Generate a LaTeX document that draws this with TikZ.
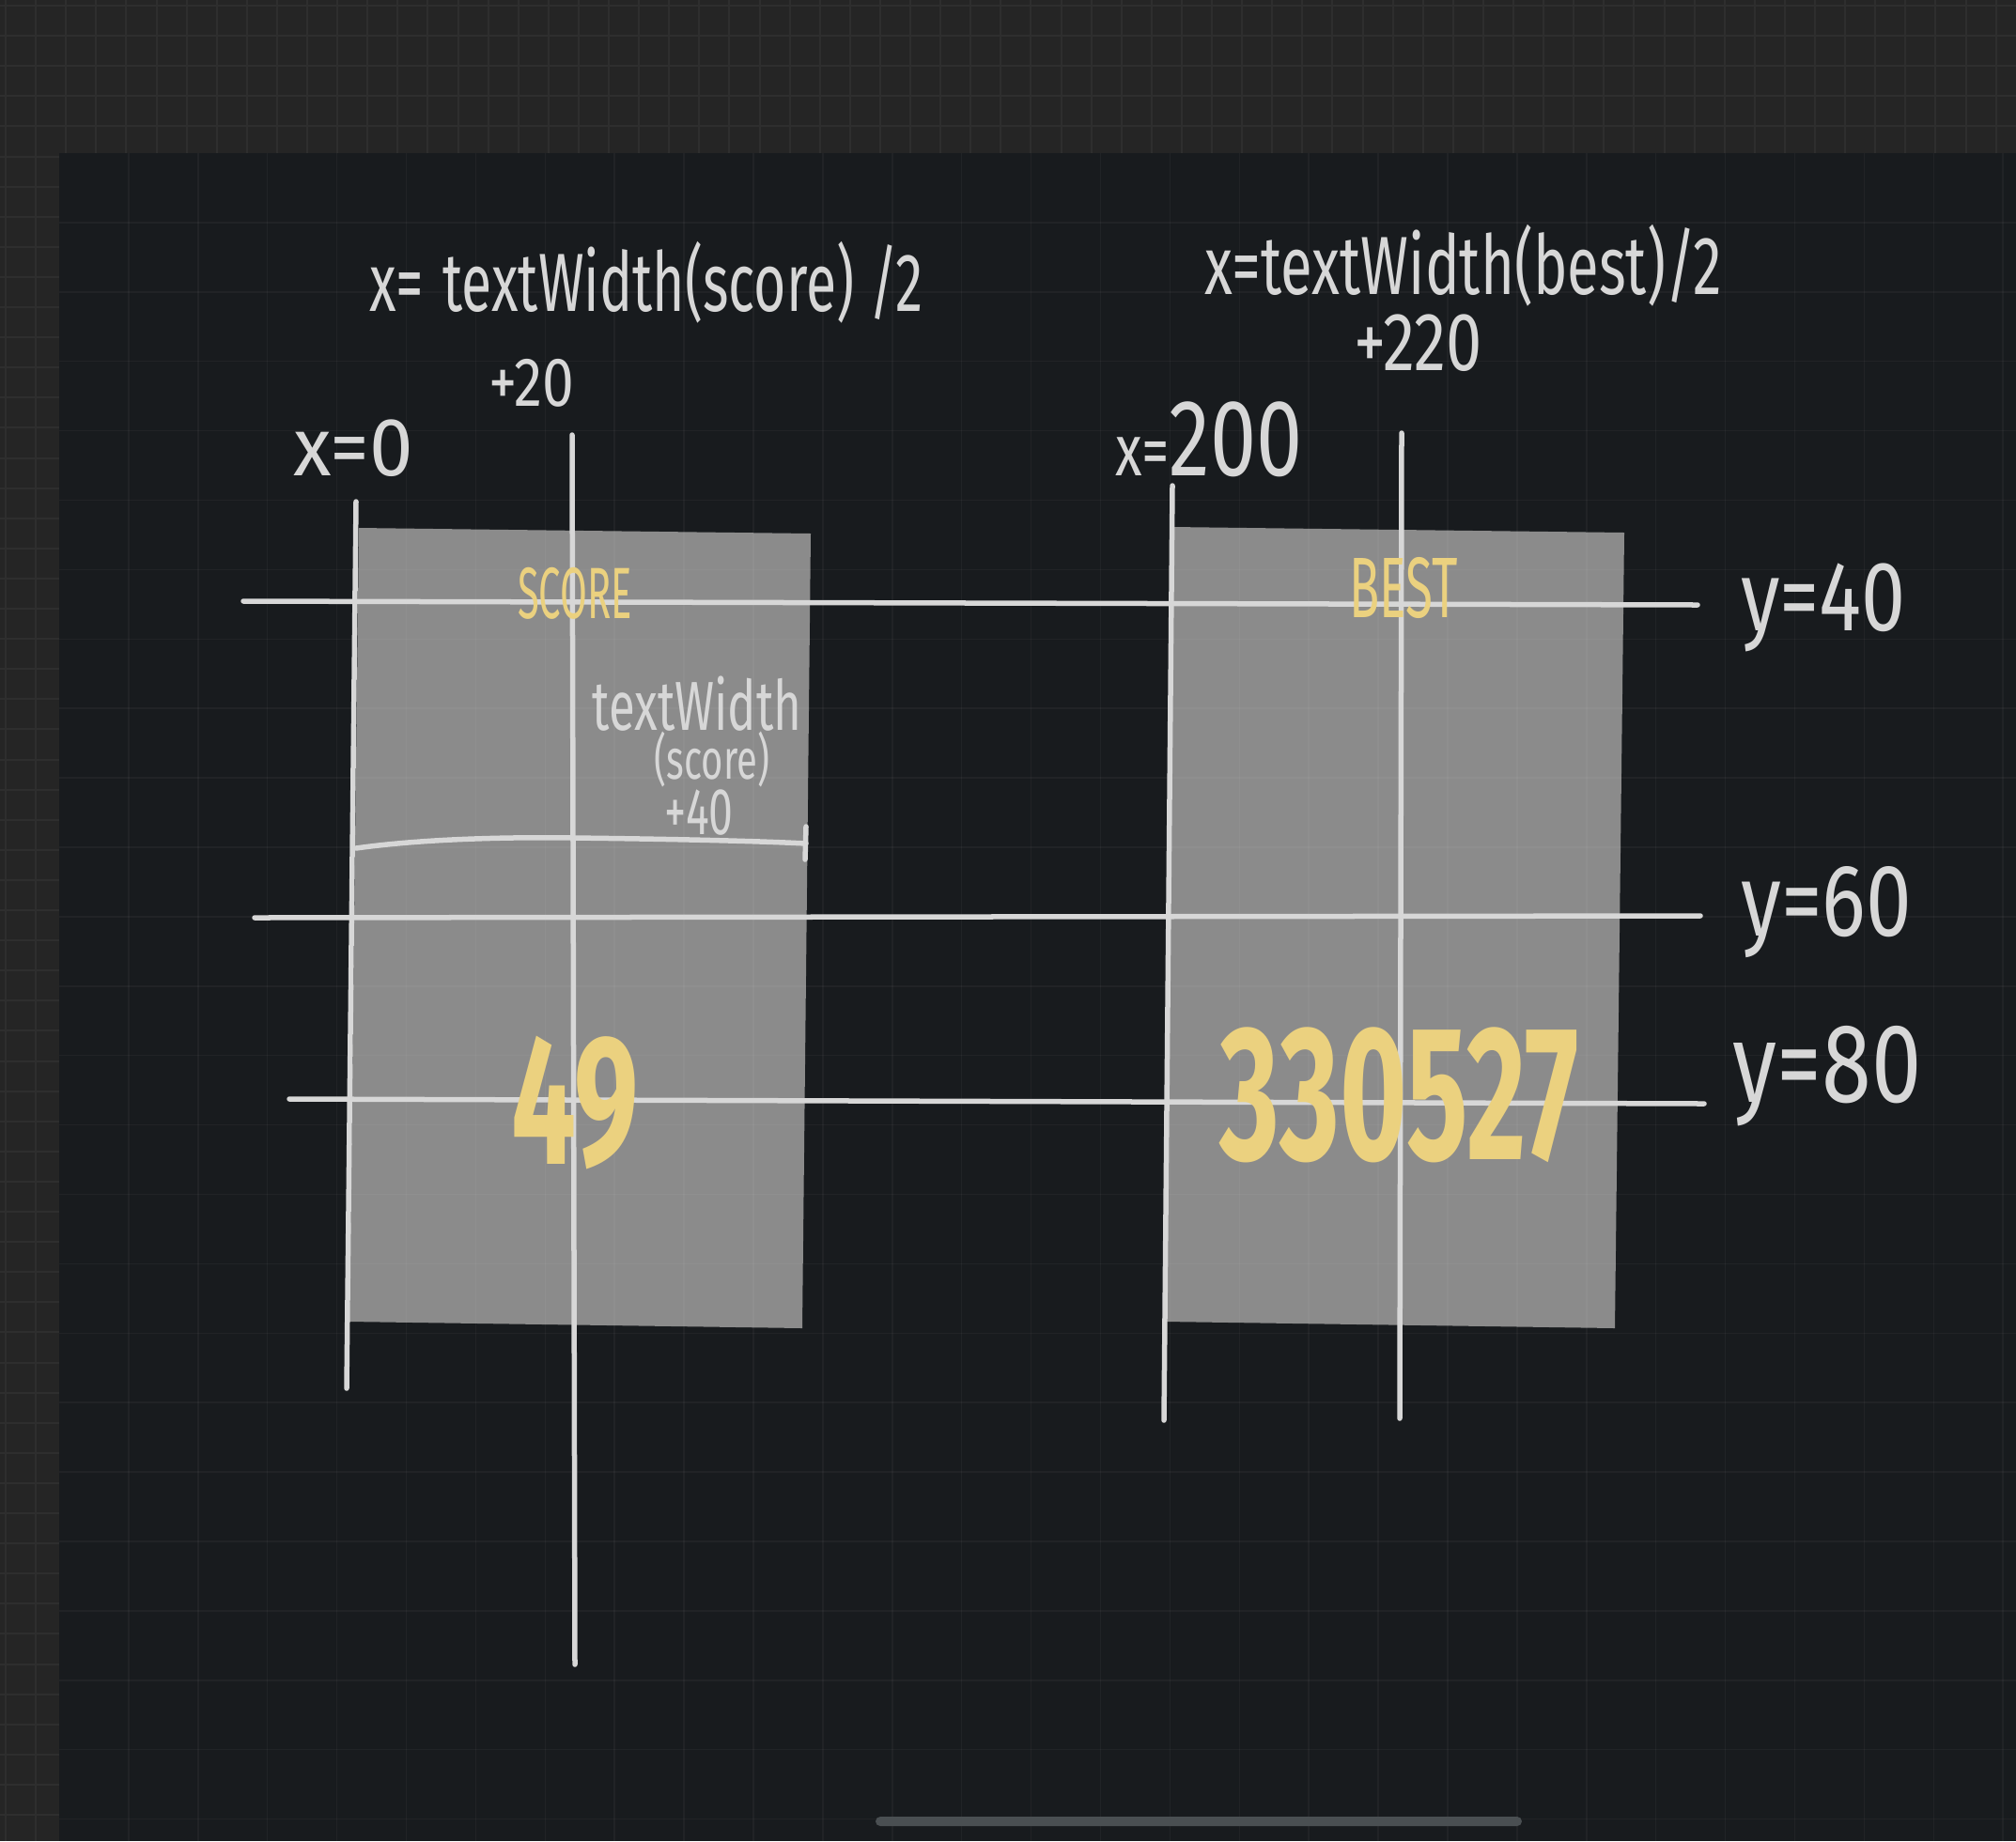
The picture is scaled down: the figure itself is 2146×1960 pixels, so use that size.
\documentclass[tikz,border=0pt]{standalone}
\usepackage{fontspec}
\usepackage{graphicx}
\newfontfamily\hand{Fira Sans}
\definecolor{outerbg}{HTML}{252525}
\definecolor{outergrid}{HTML}{2E2E2E}
\definecolor{panel}{HTML}{181B1E}
\definecolor{rectgray}{HTML}{8B8B8B}
\definecolor{chalk}{HTML}{D7D7D7}
\definecolor{gold}{HTML}{EBD17F}
\definecolor{pill}{HTML}{4A4F52}
\newcommand\hw[3]{\scalebox{#1}[1]{\fontsize{#2pt}{#2pt}\selectfont #3}}
\tikzset{
  chalkline/.style={draw=chalk, line width=0.055cm, line cap=round},
  handtext/.style={font=\hand, text=chalk, inner sep=0pt, anchor=base},
  goldtext/.style={font=\hand, text=gold, inner sep=0pt, anchor=base},
}
\begin{document}
\begin{tikzpicture}[x=0.01cm,y=-0.01cm]
\useasboundingbox (0,0) rectangle (2146,1960);
% outer background with grid
\fill[outerbg] (0,0) rectangle (2146,1960);
\foreach \i in {0,...,67} \draw[outergrid, line width=0.02cm] (6+32.1*\i,0) -- ++(0,1960);
\foreach \j in {0,...,61} \draw[outergrid, line width=0.02cm] (0,6+32.1*\j) -- ++(2146,0);
% inner panel
\fill[panel] (63,163) rectangle (2146,1960);
% gray boxes
\fill[rectgray] (382,562) -- (863,568) -- (854,1414) -- (372,1407) -- cycle;
\fill[rectgray] (1248,561) -- (1729,567) -- (1719,1414) -- (1241,1407) -- cycle;
% inner grid
\foreach \i in {1,...,28} \draw[white, opacity=0.04, line width=0.015cm] (63+73.9*\i,163) -- (63+73.9*\i,1960);
\foreach \j in {1,...,24} \draw[white, opacity=0.04, line width=0.015cm] (63,163+73.9*\j) -- (2146,163+73.9*\j);
% guide line end points
\coordinate (v0t) at (379,534);   \coordinate (v0b) at (369,1478);
\coordinate (v1t) at (609,463);   \coordinate (v1b) at (612,1772);
\coordinate (v2t) at (1248,517);  \coordinate (v2b) at (1239,1512);
\coordinate (v3t) at (1492,461);  \coordinate (v3b) at (1490,1510);
\coordinate (h1l) at (259,640);   \coordinate (h1r) at (1807,644);
\coordinate (h2l) at (271,977);   \coordinate (h2r) at (1810,975);
\coordinate (h3l) at (308,1170);  \coordinate (h3r) at (1814,1175);
\coordinate (bl) at (379,903);    \coordinate (bm) at (609,892);   \coordinate (br) at (858,898);
\coordinate (brt) at (858,880);   \coordinate (brb) at (857,915);
% guide lines
\draw[chalkline] (v0t) -- (v0b);
\draw[chalkline] (v1t) -- (v1b);
\draw[chalkline] (v2t) -- (v2b);
\draw[chalkline] (v3t) -- (v3b);
\draw[chalkline] (h1l) -- (h1r);
\draw[chalkline] (h2l) -- (h2r);
\draw[chalkline] (h3l) -- (h3r);
% width bracket
\draw[chalkline] (bl) .. controls (450,893) and (540,891) .. (bm) .. controls (700,893) and (800,895) .. (br);
\draw[chalkline] (brt) -- (brb);
% texts
\node[handtext] (f1) at (688,331) {\hw{0.67}{25}{x=\hspace{0.35em}textWidth(score) /2}};
\node[handtext] (p20) at (566,432) {\hw{0.82}{21}{+20}};
\node[handtext] (x0) at (376,506) {\hw{0.95}{25}{x=0}};
\node[handtext] (f2) at (1558,313) {\hw{0.70}{25}{x=textWidth(best)/2}};
\node[handtext] (p220) at (1510,394) {\hw{0.78}{25}{+220}};
\node[handtext] (x200) at (1287,506) {\scalebox{0.76}[1]{\fontsize{22pt}{22pt}\selectfont x=\fontsize{33pt}{33pt}\selectfont 200}};
\node[goldtext] (score) at (612,658) {\hw{0.54}{22}{SCORE}};
\node[goldtext] (best) at (1494,657) {\hw{0.58}{26}{BEST}};
\node[handtext] (tw1) at (742,777) {\hw{0.69}{21}{textWidth}};
\node[handtext] (tw2) at (758,829) {\hw{0.67}{17}{(score)}};
\node[handtext] (tw3) at (744,888) {\hw{0.66}{20}{+40}};
\node[goldtext] (n49) at (612,1239) {\hw{0.62}{56}{\bfseries 49}};
\node[goldtext] (n330) at (1490,1234) {\hw{0.6}{58}{\bfseries 330527}};
\node[handtext] (y40) at (1941,671) {\hw{0.8}{30}{y=40}};
\node[handtext] (y60) at (1944,996) {\hw{0.8}{31}{y=60}};
\node[handtext] (y80) at (1945,1173) {\hw{0.8}{34}{y=80}};
% scroll indicator
\fill[pill, rounded corners=0.05cm] (932,1934) rectangle (1620,1944);
\end{tikzpicture}
\end{document}
